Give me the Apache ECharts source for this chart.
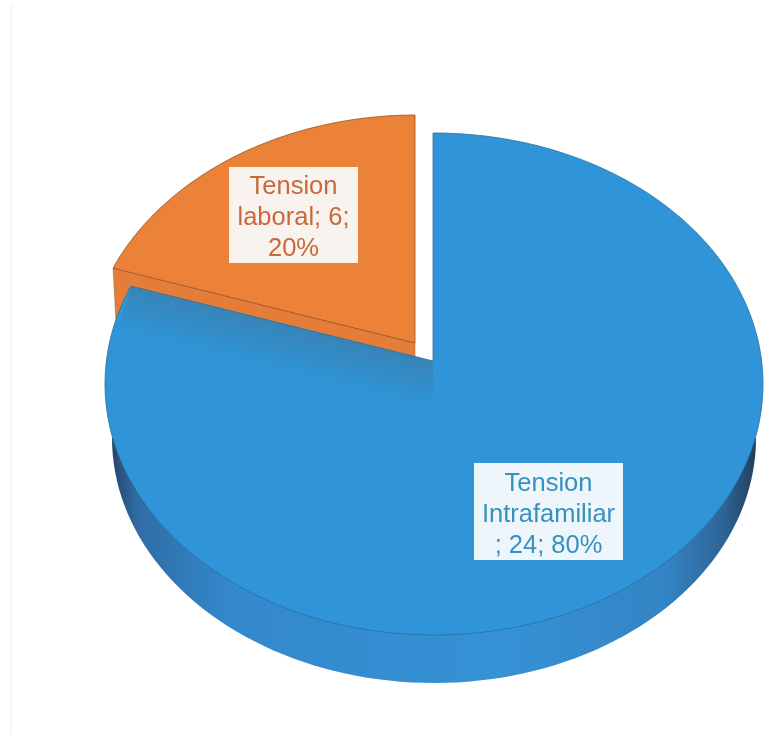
<!DOCTYPE html>
<html>
<head>
<meta charset="utf-8">
<title>Tension</title>
<style>
  html, body { margin: 0; padding: 0; background: #fff; }
  #main { width: 770px; height: 734px; }
</style>
<script src="https://cdn.jsdelivr.net/npm/echarts@6/dist/echarts.min.js"></script>
</head>
<body>
<div id="main"></div>
<script>
// data, drawn counter-clockwise from 12 o'clock
var categories = ['Tension\nlaboral', 'Tension\nIntrafamiliar\n'];
var values = [6, 24];
var afterName = ['; ', '; '];
var afterValue = [';\n', '; '];

// look of the tilted disc
var face = { cx: 434, cy: 384, rx: 329, ry: 251, apexY: -23 };
var bottom = { cx: 434, cy: 438, rx: 322, ry: 245 };
var explode = [[-18, -18], [0, 0]];
var faceColors = ['#EC8238', '#2F95D8'];
var edgeColors = ['#8F5226', '#27709F'];
var textColors = ['#C8683C', '#3592BF'];
var boxColors = ['#F8F3EF', '#EFF6FB'];
var labelBoxes = [[229, 167, 129, 96], [474, 463, 149, 97]];

var total = values.reduce(function (a, b) { return a + b; }, 0);

// point on the rim seen from the slice apex, which sits above the ellipse centre
function rim(deg, ox, oy) {
  var t = deg * Math.PI / 180;
  var dx = Math.sin(t), dy = -Math.cos(t);
  var px = -1 / face.rx, py = face.apexY / face.ry;
  var pd = px * dx + py * dy;
  var k = -pd + Math.sqrt(pd * pd - (px * px + py * py - 1));
  return [face.cx + ox + face.rx * (px + k * dx), face.cy + oy + face.ry * (py + k * dy)];
}

function renderSlice(params, api) {
  var i = params.dataIndex;
  var before = 0;
  for (var j = 0; j < i; j++) before += values[j];
  var end = 360 - before / total * 360;
  var start = end - api.value(0) / total * 360;
  var ox = explode[i][0], oy = explode[i][1];
  var apex = [face.cx - 1 + ox, face.cy + face.apexY + oy];

  var pts = [apex];
  for (var d = start; d < end; d += 1) pts.push(rim(d, ox, oy));
  pts.push(rim(end, ox, oy));

  var children = [];
  var depth = bottom.cy - face.cy;

  if (i === 0) {
    // orange cut wall, the lower part is hidden by the blue slice
    var outer = rim(start, ox, oy);
    children.push({
      type: 'polygon',
      shape: { points: [outer, apex, [apex[0], apex[1] + depth], [outer[0] + 3, outer[1] + depth]] },
      style: { fill: '#E37D37', stroke: '#A05C2C', lineWidth: 0.5 }
    });
  } else {
    // blue outer wall
    var wall = [];
    for (var a = 0; a <= 180; a += 2) {
      var r = a * Math.PI / 180;
      wall.push([bottom.cx + bottom.rx * Math.cos(r), bottom.cy + bottom.ry * Math.sin(r)]);
    }
    children.push({
      type: 'polygon',
      shape: { points: wall },
      style: {
        fill: new echarts.graphic.LinearGradient(0, 0, 1, 0, [
          { offset: 0, color: '#26476A' },
          { offset: 0.04, color: '#2F6CA5' },
          { offset: 0.18, color: '#3388CB' },
          { offset: 0.6, color: '#3592D5' },
          { offset: 0.86, color: '#3384C4' },
          { offset: 0.95, color: '#2E6496' },
          { offset: 1, color: '#223F5C' }
        ])
      }
    });
  }

  children.push({
    type: 'polygon',
    shape: { points: pts },
    style: { fill: faceColors[i], stroke: edgeColors[i], lineWidth: 0.8 }
  });

  if (i === 1) {
    // shadow the orange slice leaves on the blue one, fades away from the cut edge
    var p0 = rim(end, ox, oy);
    var midX = (p0[0] + apex[0]) / 2, midY = (p0[1] + apex[1]) / 2;
    children.push({
      type: 'polygon',
      shape: { points: [p0, apex, [apex[0], apex[1] + 48], [p0[0] - 15, p0[1] + 50]] },
      style: {
        fill: new echarts.graphic.LinearGradient(midX, midY, midX - 12, midY + 48, [
          { offset: 0, color: 'rgba(70,100,120,0.34)' },
          { offset: 1, color: 'rgba(70,100,120,0)' }
        ], true)
      }
    });
  }

  // label box and text
  var box = labelBoxes[i];
  var pct = Math.round(api.value(0) / total * 100);
  children.push({
    type: 'rect',
    shape: { x: box[0], y: box[1], width: box[2], height: box[3] },
    style: { fill: boxColors[i] }
  });
  children.push({
    type: 'text',
    style: {
      text: categories[i] + afterName[i] + api.value(0) + afterValue[i] + pct + '%',
      x: box[0] + box[2] / 2,
      y: box[1] + box[3] / 2 + 3,
      align: 'center',
      verticalAlign: 'middle',
      fontFamily: '"Liberation Sans", Arial, sans-serif',
      fontSize: 25.5,
      lineHeight: 31,
      fill: textColors[i]
    }
  });

  return { type: 'group', children: children };
}

var myChart = echarts.init(document.getElementById('main'), null, { renderer: 'canvas' });
myChart.setOption({
  animation: false,
  backgroundColor: '#ffffff',
  graphic: [{
    type: 'line',
    shape: { x1: 11, y1: 5, x2: 11, y2: 734 },
    style: { stroke: '#EBEBEB', lineWidth: 1 }
  }],
  series: [{
    type: 'custom',
    coordinateSystem: 'none',
    renderItem: renderSlice,
    data: values.map(function (v) { return [v]; })
  }]
});
</script>
</body>
</html>
